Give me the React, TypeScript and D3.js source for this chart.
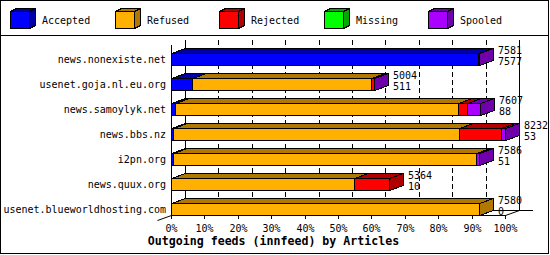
import React from "react";
import * as d3 from "d3";

const hosts = [
  "news.nonexiste.net",
  "usenet.goja.nl.eu.org",
  "news.samoylyk.net",
  "news.bbs.nz",
  "i2pn.org",
  "news.quux.org",
  "usenet.blueworldhosting.com",
];
const totals = [7581, 5004, 7607, 8232, 7586, 5364, 7580];
const accepted = [7577, 511, 88, 53, 51, 10, 0];
const refused = [0, 4412, 6990, 7034, 7465, 4510, 7580];
const rejected = [0, 74, 220, 1035, 0, 844, 0];
const missing = [0, 0, 0, 0, 0, 0, 0];
const spooled = [4, 7, 309, 110, 70, 0, 0];

const seriesNames = ["Accepted", "Refused", "Rejected", "Missing", "Spooled"];
const seriesValues = [accepted, refused, rejected, missing, spooled];
const frontColors = ["#0000ff", "#ffb000", "#ff0000", "#00ff00", "#aa00ff"];
const darkColors = ["#0000a8", "#b07800", "#b00000", "#00a800", "#7000aa"];
const pctTicks = [0, 10, 20, 30, 40, 50, 60, 70, 80, 90, 100];
const title = "Outgoing feeds (innfeed) by Articles";

const FONT = "'DejaVu Sans Mono', 'Liberation Mono', monospace";

export default function App() {
  const W = 550;
  const H = 255;
  const DX = 14;
  const DY = 5;
  const x0 = 171;
  const x1 = 505;
  const frontBottom = 215;
  const backTop = 40;

  const maxTotal = d3.max(totals) as number;
  const xv = d3.scaleLinear().domain([0, maxTotal]).range([x0, x1]);
  const xp = d3.scaleLinear().domain([0, 100]).range([x0, x1]);
  const y = d3.scalePoint<string>().domain(hosts).range([59, 209]);
  const barH = 12;

  const legendX = d3.scaleLinear().domain([0, 4]).range([10, 428]);

  return (
    <svg
      width={W}
      height={H}
      style={{ position: "absolute", left: 0, top: 0 }}
      shapeRendering="crispEdges"
    >
      <rect x={0} y={0} width={W} height={H} fill="#fff" />
      <rect x={0.5} y={0.5} width={548} height={253} fill="none" stroke="#000" />
      <line x1={0} x2={549} y1={35.5} y2={35.5} stroke="#000" />

      {/* legend */}
      {seriesNames.map((s, i) => {
        const lx = Math.round(legendX(i));
        const fy = 11;
        const fw = 19;
        const fh = 17;
        const ddx = 6;
        const ddy = 3;
        return (
          <g key={s}>
            <polygon
              points={`${lx + 0.5},${fy + 0.5} ${lx + ddx + 0.5},${fy - ddy + 0.5} ${lx + fw + ddx + 0.5},${fy - ddy + 0.5} ${lx + fw + 0.5},${fy + 0.5}`}
              fill={darkColors[i]}
              stroke="#000"
            />
            <polygon
              points={`${lx + fw + 0.5},${fy + 0.5} ${lx + fw + ddx + 0.5},${fy - ddy + 0.5} ${lx + fw + ddx + 0.5},${fy + fh - ddy + 0.5} ${lx + fw + 0.5},${fy + fh + 0.5}`}
              fill={darkColors[i]}
              stroke="#000"
            />
            <rect x={lx + 0.5} y={fy + 0.5} width={fw} height={fh} fill={frontColors[i]} stroke="#000" />
            <text x={lx + 32} y={24} fontFamily={FONT} fontSize={10} fill="#000">
              {s}
            </text>
          </g>
        );
      })}

      {/* back wall grid */}
      {pctTicks.map((p) => {
        const bx = Math.round(xp(p)) + DX + 0.5;
        const solid = p === 0 || p === 100;
        return (
          <line
            key={"g" + p}
            x1={bx}
            x2={bx}
            y1={backTop}
            y2={frontBottom - DY}
            stroke="#000"
            strokeDasharray={solid ? undefined : "5,3"}
          />
        );
      })}
      {/* back floor line */}
      <line x1={x0 + DX} x2={x1 + 2 * DX} y1={frontBottom - DY + 0.5} y2={frontBottom - DY + 0.5} stroke="#000" />
      {/* front floor */}
      <line x1={x0} x2={x1 + 1} y1={frontBottom + 0.5} y2={frontBottom + 0.5} stroke="#000" />
      <line x1={x0 + 0.5} x2={x0 + 0.5} y1={backTop + DY} y2={frontBottom} stroke="#000" />
      <line
        x1={x1 + 0.5}
        y1={frontBottom + 0.5}
        x2={x1 + DX + 0.5}
        y2={frontBottom - DY + 0.5}
        stroke="#000"
        shapeRendering="auto"
      />
      <line
        x1={x0 + 0.5}
        y1={frontBottom + 0.5}
        x2={x0 - DX + 0.5}
        y2={frontBottom + DY + 0.5}
        stroke="#000"
        shapeRendering="auto"
      />

      {/* ticks */}
      {pctTicks.map((p) => {
        const tx = Math.round(xp(p)) + 0.5;
        return (
          <g key={"t" + p}>
            <line x1={tx} x2={tx} y1={frontBottom} y2={frontBottom + 4} stroke="#000" />
            <text x={tx} y={232} textAnchor="middle" fontFamily={FONT} fontSize={10} fill="#000">
              {p}%
            </text>
          </g>
        );
      })}

      {/* bars */}
      {hosts.map((h, r) => {
        const cy = y(h) as number;
        const top = cy - barH / 2;
        const bot = top + barH;
        let cum = 0;
        const segs: { a: number; b: number; i: number }[] = [];
        seriesValues.forEach((vals, i) => {
          const v = vals[r];
          if (v > 0) {
            segs.push({ a: xv(cum), b: xv(cum + v), i });
          }
          cum += v;
        });
        const last = segs[segs.length - 1];
        const endX = xv(totals[r]);
        return (
          <g key={h}>
            <text x={166} y={cy + 4} textAnchor="end" fontFamily={FONT} fontSize={10} fill="#000">
              {h}
            </text>
            {segs.map((s, k) => {
              const a = Math.round(s.a) + 0.5;
              const b = Math.round(s.b) + 0.5;
              return (
                <g key={k}>
                  <polygon
                    points={`${a},${top + 0.5} ${a + DX},${top - DY + 0.5} ${b + DX},${top - DY + 0.5} ${b},${top + 0.5}`}
                    fill={darkColors[s.i]}
                    stroke="#000"
                  />
                  <rect
                    x={a}
                    y={top + 0.5}
                    width={Math.max(0, b - a)}
                    height={barH}
                    fill={frontColors[s.i]}
                    stroke="#000"
                  />
                </g>
              );
            })}
            {last && (
              <polygon
                points={`${Math.round(last.b) + 0.5},${top + 0.5} ${Math.round(last.b) + DX + 0.5},${top - DY + 0.5} ${Math.round(last.b) + DX + 0.5},${bot - DY + 0.5} ${Math.round(last.b) + 0.5},${bot + 0.5}`}
                fill={darkColors[last.i]}
                stroke="#000"
              />
            )}
            <text x={Math.round(endX) + 19} y={cy - 5} fontFamily={FONT} fontSize={10} fill="#000">
              {totals[r]}
            </text>
            <text x={Math.round(endX) + 19} y={cy + 6} fontFamily={FONT} fontSize={10} fill="#000">
              {accepted[r]}
            </text>
          </g>
        );
      })}

      <text
        x={273.5}
        y={245}
        textAnchor="middle"
        fontFamily={FONT}
        fontWeight="bold"
        fontSize={11.6}
        fill="#000"
      >
        {title}
      </text>
    </svg>
  );
}
